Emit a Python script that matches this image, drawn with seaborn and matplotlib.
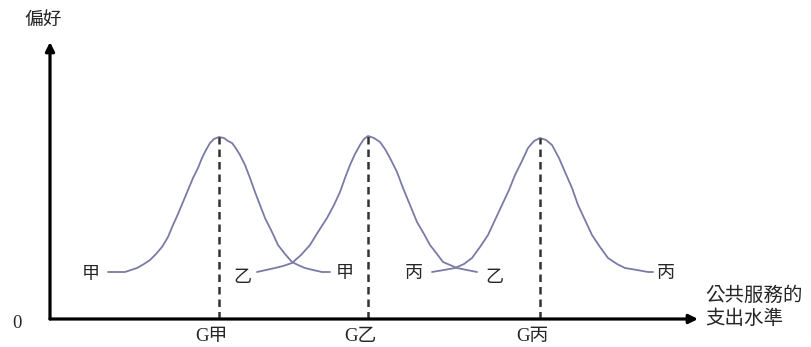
import pandas as pd
import matplotlib
matplotlib.use("Agg")
import matplotlib.pyplot as plt
import seaborn as sns

# curve points (x, preference)
jia_x = [58, 75, 81, 87, 94, 100, 106, 112, 118, 123, 128, 133, 138, 143, 148, 152, 156, 160, 164, 169,
         174, 178, 182, 185, 190, 195, 200, 205, 210, 215, 222, 228, 235, 242, 248, 255, 263, 272, 280]
jia_y = [47, 47, 49, 51, 55, 59, 65, 72, 82, 94, 105, 117, 129, 141, 151, 161, 169, 176, 180, 182,
         181, 178, 176, 172, 164, 154, 141, 127, 114, 101, 87, 74, 65, 57, 54, 51, 49, 47, 47]
yi_x = [207, 216, 225, 233, 242, 251, 260, 268, 277, 284, 290, 295, 300, 305, 310, 314, 318,
        324, 330, 335, 340, 347, 353, 360, 367, 374, 380, 387, 393, 400, 407, 417, 427]
yi_y = [47, 49, 51, 53, 56, 64, 74, 87, 101, 114, 127, 141, 154, 165, 174, 180, 183,
        181, 177, 170, 161, 147, 131, 114, 97, 85, 74, 65, 57, 54, 51, 49, 47]
bing_x = [382, 394, 405, 414, 422, 430, 438, 445, 452, 459, 465, 472, 478, 484, 490,
          496, 502, 509, 515, 522, 528, 535, 542, 550, 558, 567, 575, 587, 598, 603]
bing_y = [47, 49, 51, 55, 61, 72, 84, 99, 114, 129, 144, 158, 171, 178, 181,
          179, 174, 161, 147, 131, 114, 99, 84, 72, 61, 55, 51, 49, 47, 47]

# ideal spending levels and their peaks
g_labels = ["G甲", "G乙", "G丙"]
g_x = [169, 318, 490]
g_peak = [182, 183, 181]

# end labels of the curves
end_labels = ["甲", "乙", "甲", "丙", "乙", "丙"]
end_x = [41, 192, 295, 364, 444, 616]
end_y = [45, 42, 46, 46, 42, 46]

df = pd.concat([
    pd.DataFrame({"x": jia_x, "y": jia_y, "curve": "甲"}),
    pd.DataFrame({"x": yi_x, "y": yi_y, "curve": "乙"}),
    pd.DataFrame({"x": bing_x, "y": bing_y, "curve": "丙"}),
])

sns.set_style("white")
plt.rcParams['font.family'] = ['Noto Sans CJK TC', 'DejaVu Sans']
serif = ['Liberation Serif', 'Noto Sans CJK TC']

fig = plt.figure(figsize=(8.11, 3.47), dpi=100)
ax = fig.add_axes([0, 0, 1, 1])
ax.set_xlim(-50, 761)
ax.set_ylim(-28, 319)
ax.axis("off")

sns.lineplot(data=df, x="x", y="y", units="curve", estimator=None, sort=False,
             color="#7a7aa6", linewidth=1.3, ax=ax)

# dashed lines from each peak down to the axis
ax.vlines(g_x, 0, g_peak, colors="#333333", linestyles=(0, (3, 2)), linewidth=1.8)

# axes with arrows
arrow = dict(arrowstyle="-|>", color="black", lw=2.3, mutation_scale=13, shrinkA=0, shrinkB=0)
ax.annotate("", xy=(648, 0), xytext=(0, 0), arrowprops=arrow)
ax.annotate("", xy=(0, 277), xytext=(0, 0), arrowprops=arrow)

ax.text(-7, 300, "偏好", fontsize=13.5, ha="center", va="center")
ax.text(-33, -5, "0", fontsize=13.5, ha="center", va="center", family=serif)
ax.text(655, 12, "公共服務的\n支出水準", fontsize=14, ha="left", va="center", linespacing=1.1)

for lab, x in zip(g_labels, g_x):
    ax.text(x - 8, -18, lab, fontsize=13.5, ha="center", va="center", family=serif)

for lab, x, y in zip(end_labels, end_x, end_y):
    ax.text(x, y, lab, fontsize=13, ha="center", va="center")

fig.savefig("out.png", dpi=100)
